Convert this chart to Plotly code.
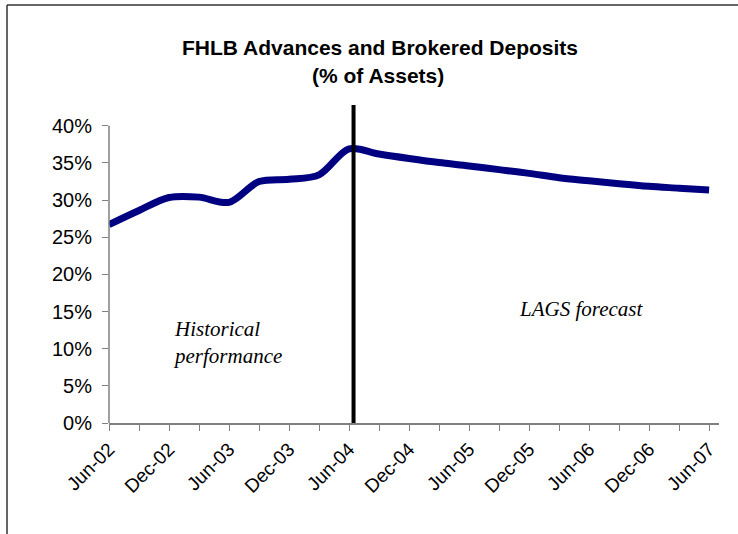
import plotly.graph_objects as go

# ---- data (quarterly, Jun-02 .. Jun-07) ----
quarters = ["Jun-02", "Sep-02", "Dec-02", "Mar-03", "Jun-03", "Sep-03", "Dec-03",
            "Mar-04", "Jun-04", "Sep-04", "Dec-04", "Mar-05", "Jun-05", "Sep-05",
            "Dec-05", "Mar-06", "Jun-06", "Sep-06", "Dec-06", "Mar-07", "Jun-07"]
share_pct = [26.7, 28.6, 30.35, 30.4, 29.7, 32.5, 32.8,
             33.4, 36.9, 36.2, 35.6, 35.05, 34.6, 34.1,
             33.6, 33.0, 32.6, 32.2, 31.85, 31.6, 31.35]
label_quarters = quarters[::2]
y_ticks = [0, 5, 10, 15, 20, 25, 30, 35, 40]
y_ticktext = [f"{v}%" for v in y_ticks]
forecast_start = 8.15          # position of the divider (quarter index)
title_line1 = "FHLB Advances and Brokered Deposits"
title_line2 = "(% of Assets)"

x_idx = list(range(len(quarters)))
label_idx = x_idx[::2]

W, H = 738, 534
ML, MR, MT, MB = 109, 19, 105, 111
PW, PH = W - ML - MR, H - MT - MB

def px_x(p):  # pixel -> paper
    return (p - ML) / PW

def px_y(p):
    return (H - MB - p) / PH

SANS = "Arial, Liberation Sans, sans-serif"
SERIF = "Times New Roman, Liberation Serif, serif"
GRAY = "#808080"

fig = go.Figure()
fig.add_trace(go.Scatter(
    x=x_idx, y=share_pct, mode="lines",
    line=dict(color="#000080", width=7, shape="spline", smoothing=0.9),
    hoverinfo="skip", showlegend=False,
))

fig.update_layout(
    width=W, height=H,
    margin=dict(l=ML, r=MR, t=MT, b=MB, autoexpand=False),
    paper_bgcolor="white", plot_bgcolor="white",
    showlegend=False,
    font=dict(family=SANS, size=20, color="black"),
    xaxis=dict(
        range=[0, 20.33], tickmode="array", tickvals=label_idx, ticktext=label_quarters,
        tickangle=-45, ticks="outside", ticklen=6, tickcolor=GRAY, tickwidth=1,
        showline=True, linecolor=GRAY, linewidth=1.5, showgrid=False, zeroline=False,
        tickfont=dict(family=SANS, size=19, color="black"), automargin=False,
        minor=dict(tickmode="linear", tick0=0, dtick=1, ticks="outside",
                   ticklen=6, tickcolor=GRAY, tickwidth=1, showgrid=False),
    ),
    yaxis=dict(
        range=[0, 42.8], tickmode="array", tickvals=y_ticks, ticktext=y_ticktext,
        ticks="outside", ticklen=6, tickcolor=GRAY, tickwidth=1,
        showline=False, showgrid=False, zeroline=False, automargin=False,
        tickfont=dict(family=SANS, size=20, color="black"),
        ticklabelstandoff=6,
    ),
)

# y axis line only up to 40%
fig.add_shape(type="line", xref="paper", yref="y", x0=0, x1=0, y0=0, y1=y_ticks[-1],
              line=dict(color=GRAY, width=1.5))
# divider between history and forecast
fig.add_shape(type="line", xref="x", yref="paper", x0=forecast_start, x1=forecast_start,
              y0=0, y1=1, line=dict(color="black", width=4))
# chart frame (left and top edges)
fig.add_shape(type="line", xref="paper", yref="paper", x0=px_x(7), x1=px_x(7),
              y0=px_y(5), y1=px_y(560), line=dict(color="#333333", width=1.5))
fig.add_shape(type="line", xref="paper", yref="paper", x0=px_x(7), x1=px_x(745),
              y0=px_y(5), y1=px_y(5), line=dict(color="#333333", width=1.5))

# title
fig.add_annotation(text=f"<b>{title_line1}</b>", xref="paper", yref="paper",
                   x=px_x(379.5), y=px_y(47), xanchor="center", yanchor="middle",
                   showarrow=False, font=dict(family=SANS, size=21, color="black"))
fig.add_annotation(text=f"<b>{title_line2}</b>", xref="paper", yref="paper",
                   x=px_x(378), y=px_y(76), xanchor="center", yanchor="middle",
                   showarrow=False, font=dict(family=SANS, size=21, color="black"))

# region labels
fig.add_annotation(text="<i>Historical<br>performance</i>", xref="x", yref="y",
                   x=2.05, y=10.9, xanchor="left", yanchor="middle", align="left",
                   showarrow=False, font=dict(family=SERIF, size=21, color="black"))
fig.add_annotation(text="<i>LAGS forecast</i>", xref="x", yref="y",
                   x=13.6, y=15.3, xanchor="left", yanchor="middle", align="left",
                   showarrow=False, font=dict(family=SERIF, size=21, color="black"))

fig.write_html("out.html", config={"displayModeBar": False},
               post_script="document.body.style.margin='0';")
